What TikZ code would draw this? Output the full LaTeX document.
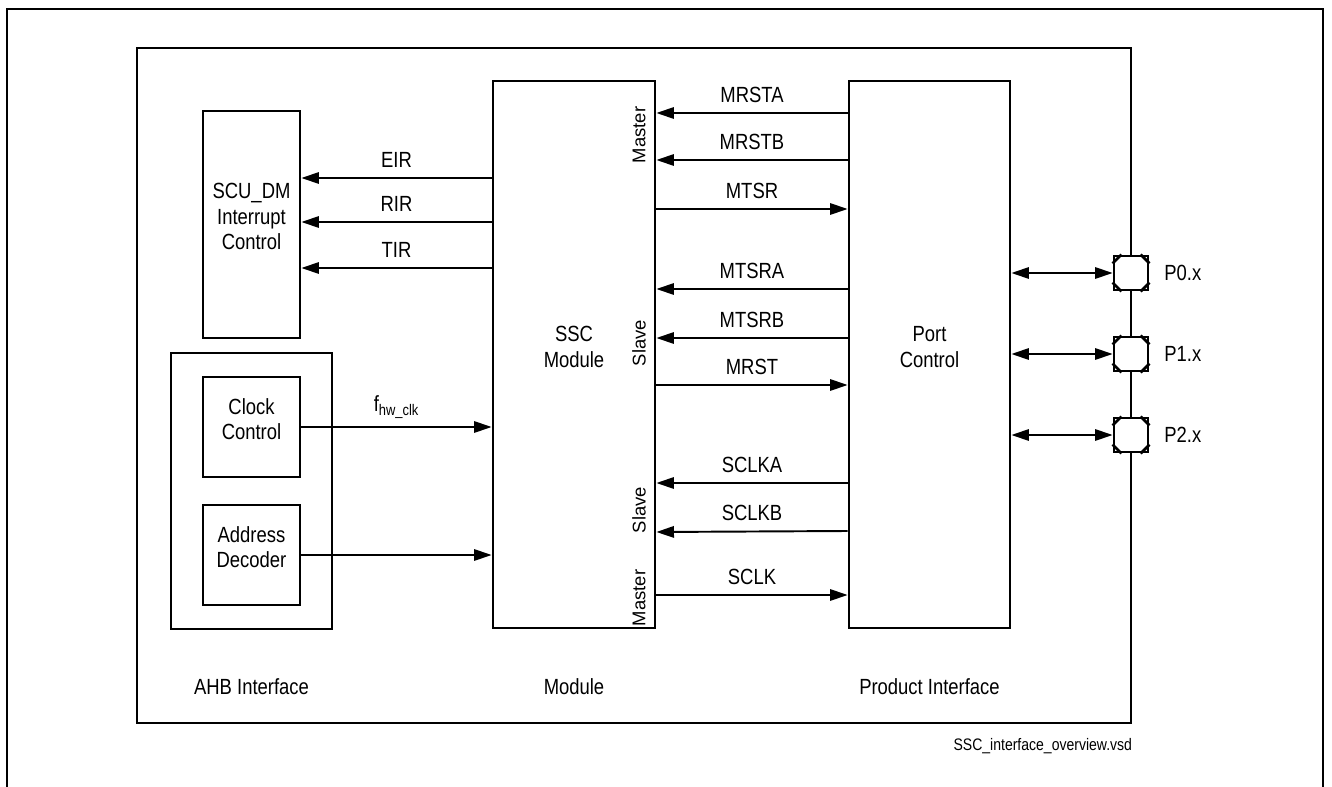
\documentclass[tikz,border=0pt]{standalone}
\usepackage{fontspec}
\setmainfont{Liberation Sans}[FakeStretch=0.84]
\newfontfamily\widesans{Liberation Sans}
\usetikzlibrary{arrows.meta, positioning, fit}

\begin{document}
\begin{tikzpicture}[
  x=0.02cm, y=-0.02cm,
  blk/.style={draw, line width=1.6pt, inner sep=0pt, align=center,
    font=\fontsize{12.5}{14.5}\selectfont},
  sig/.style={line width=1.1pt, -{Triangle[length=10pt, width=6.5pt]}},
  bidir/.style={line width=1.1pt,
    {Triangle[length=10pt, width=6.5pt]}-{Triangle[length=10pt, width=6.5pt]}},
  lbl/.style={midway, above=2pt, font=\fontsize{12.5}{14}\selectfont},
  mode/.style={rotate=90, font=\widesans\fontsize{10.5}{12}\selectfont},
  pad/.style={draw, line width=1.6pt, fill=white, minimum size=0.68cm, inner sep=0pt},
  txt/.style={font=\fontsize{12.5}{14}\selectfont}
]
\useasboundingbox (0,0) rectangle (1332,787);

% frames
\draw[line width=0.9pt] (7,787) -- (7,9) -- (1323,9) -- (1323,787);
\node[draw, line width=1.6pt, inner sep=0pt, fit={(137,48) (1131,723)}] (frame) {};

% blocks
\node[blk, fit={(203,111) (300,338)}] (scu) {SCU\_DM\\Interrupt\\Control};
\node[blk, fit={(171,353) (332,629)}] (ahb) {};
\node[blk, fit={(203,377) (300,477)}] (clk) {Clock\\Control};
\node[blk, fit={(203,505) (300,605)}] (addr) {Address\\Decoder};
\node[blk, fit={(493,81) (655,628)}] (ssc) {SSC\\Module};
\node[blk, fit={(849,81) (1010,628)}] (port) {Port\\Control};

% master / slave marks
\node[mode] (m1) at (639,135) {Master};
\node[mode] (s1) at (639,343) {Slave};
\node[mode] (s2) at (639,510) {Slave};
\node[mode] (m2) at (639,598) {Master};

% interrupts
\draw[sig] (ssc.west |- 0,178) -- (scu.east |- 0,178) node[lbl] {EIR};
\draw[sig] (ssc.west |- 0,222) -- (scu.east |- 0,222) node[lbl] {RIR};
\draw[sig] (ssc.west |- 0,268) -- (scu.east |- 0,268) node[lbl] {TIR};

% clock and address
\draw[sig] (clk.east |- 0,427) -- (ssc.west |- 0,427) node[lbl, above=1pt] {f\textsubscript{hw\_clk}};
\draw[sig] (addr.east |- 0,555) -- (ssc.west |- 0,555);

% port signals
\draw[sig] (port.west |- 0,113) -- (ssc.east |- 0,113) node[lbl] {MRSTA};
\draw[sig] (port.west |- 0,160) -- (ssc.east |- 0,160) node[lbl] {MRSTB};
\draw[sig] (ssc.east |- 0,209) -- (port.west |- 0,209) node[lbl] {MTSR};
\draw[sig] (port.west |- 0,289) -- (ssc.east |- 0,289) node[lbl] {MTSRA};
\draw[sig] (port.west |- 0,338) -- (ssc.east |- 0,338) node[lbl] {MTSRB};
\draw[sig] (ssc.east |- 0,385) -- (port.west |- 0,385) node[lbl] {MRST};
\draw[sig] (port.west |- 0,483) -- (ssc.east |- 0,483) node[lbl] {SCLKA};
\draw[sig] (port.west |- 0,531) -- (ssc.east |- 0,532) node[lbl] {SCLKB};
\draw[sig] (ssc.east |- 0,595) -- (port.west |- 0,595) node[lbl] {SCLK};

% pads
\node[pad] (p0) at (1131,273) {};
\node[pad] (p1) at (1131,354) {};
\node[pad] (p2) at (1131,435) {};
\foreach \p/\t in {p0/P0.x, p1/P1.x, p2/P2.x} {
  \draw[line width=1.6pt] ([xshift=5pt]\p.north west) -- ([yshift=-5pt]\p.north west)
    ([xshift=-5pt]\p.north east) -- ([yshift=-5pt]\p.north east)
    ([xshift=5pt]\p.south west) -- ([yshift=5pt]\p.south west)
    ([xshift=-5pt]\p.south east) -- ([yshift=5pt]\p.south east);
  \node[txt, right=5pt of \p] (\p lbl) {\t};
  \draw[bidir] (port.east |- \p) -- (\p.west);
}

% captions
\node[txt] (ahbcap) at (ahb.south |- 0,687) {AHB Interface};
\node[txt] (modcap) at (ssc.south |- 0,687) {Module};
\node[txt] (prodcap) at (port.south |- 0,687) {Product Interface};
\node[anchor=east, inner sep=0pt, font=\fontsize{9.5}{11}\selectfont] (file)
  at (frame.east |- 0,746) {SSC\_interface\_overview.vsd};
\end{tikzpicture}
\end{document}
